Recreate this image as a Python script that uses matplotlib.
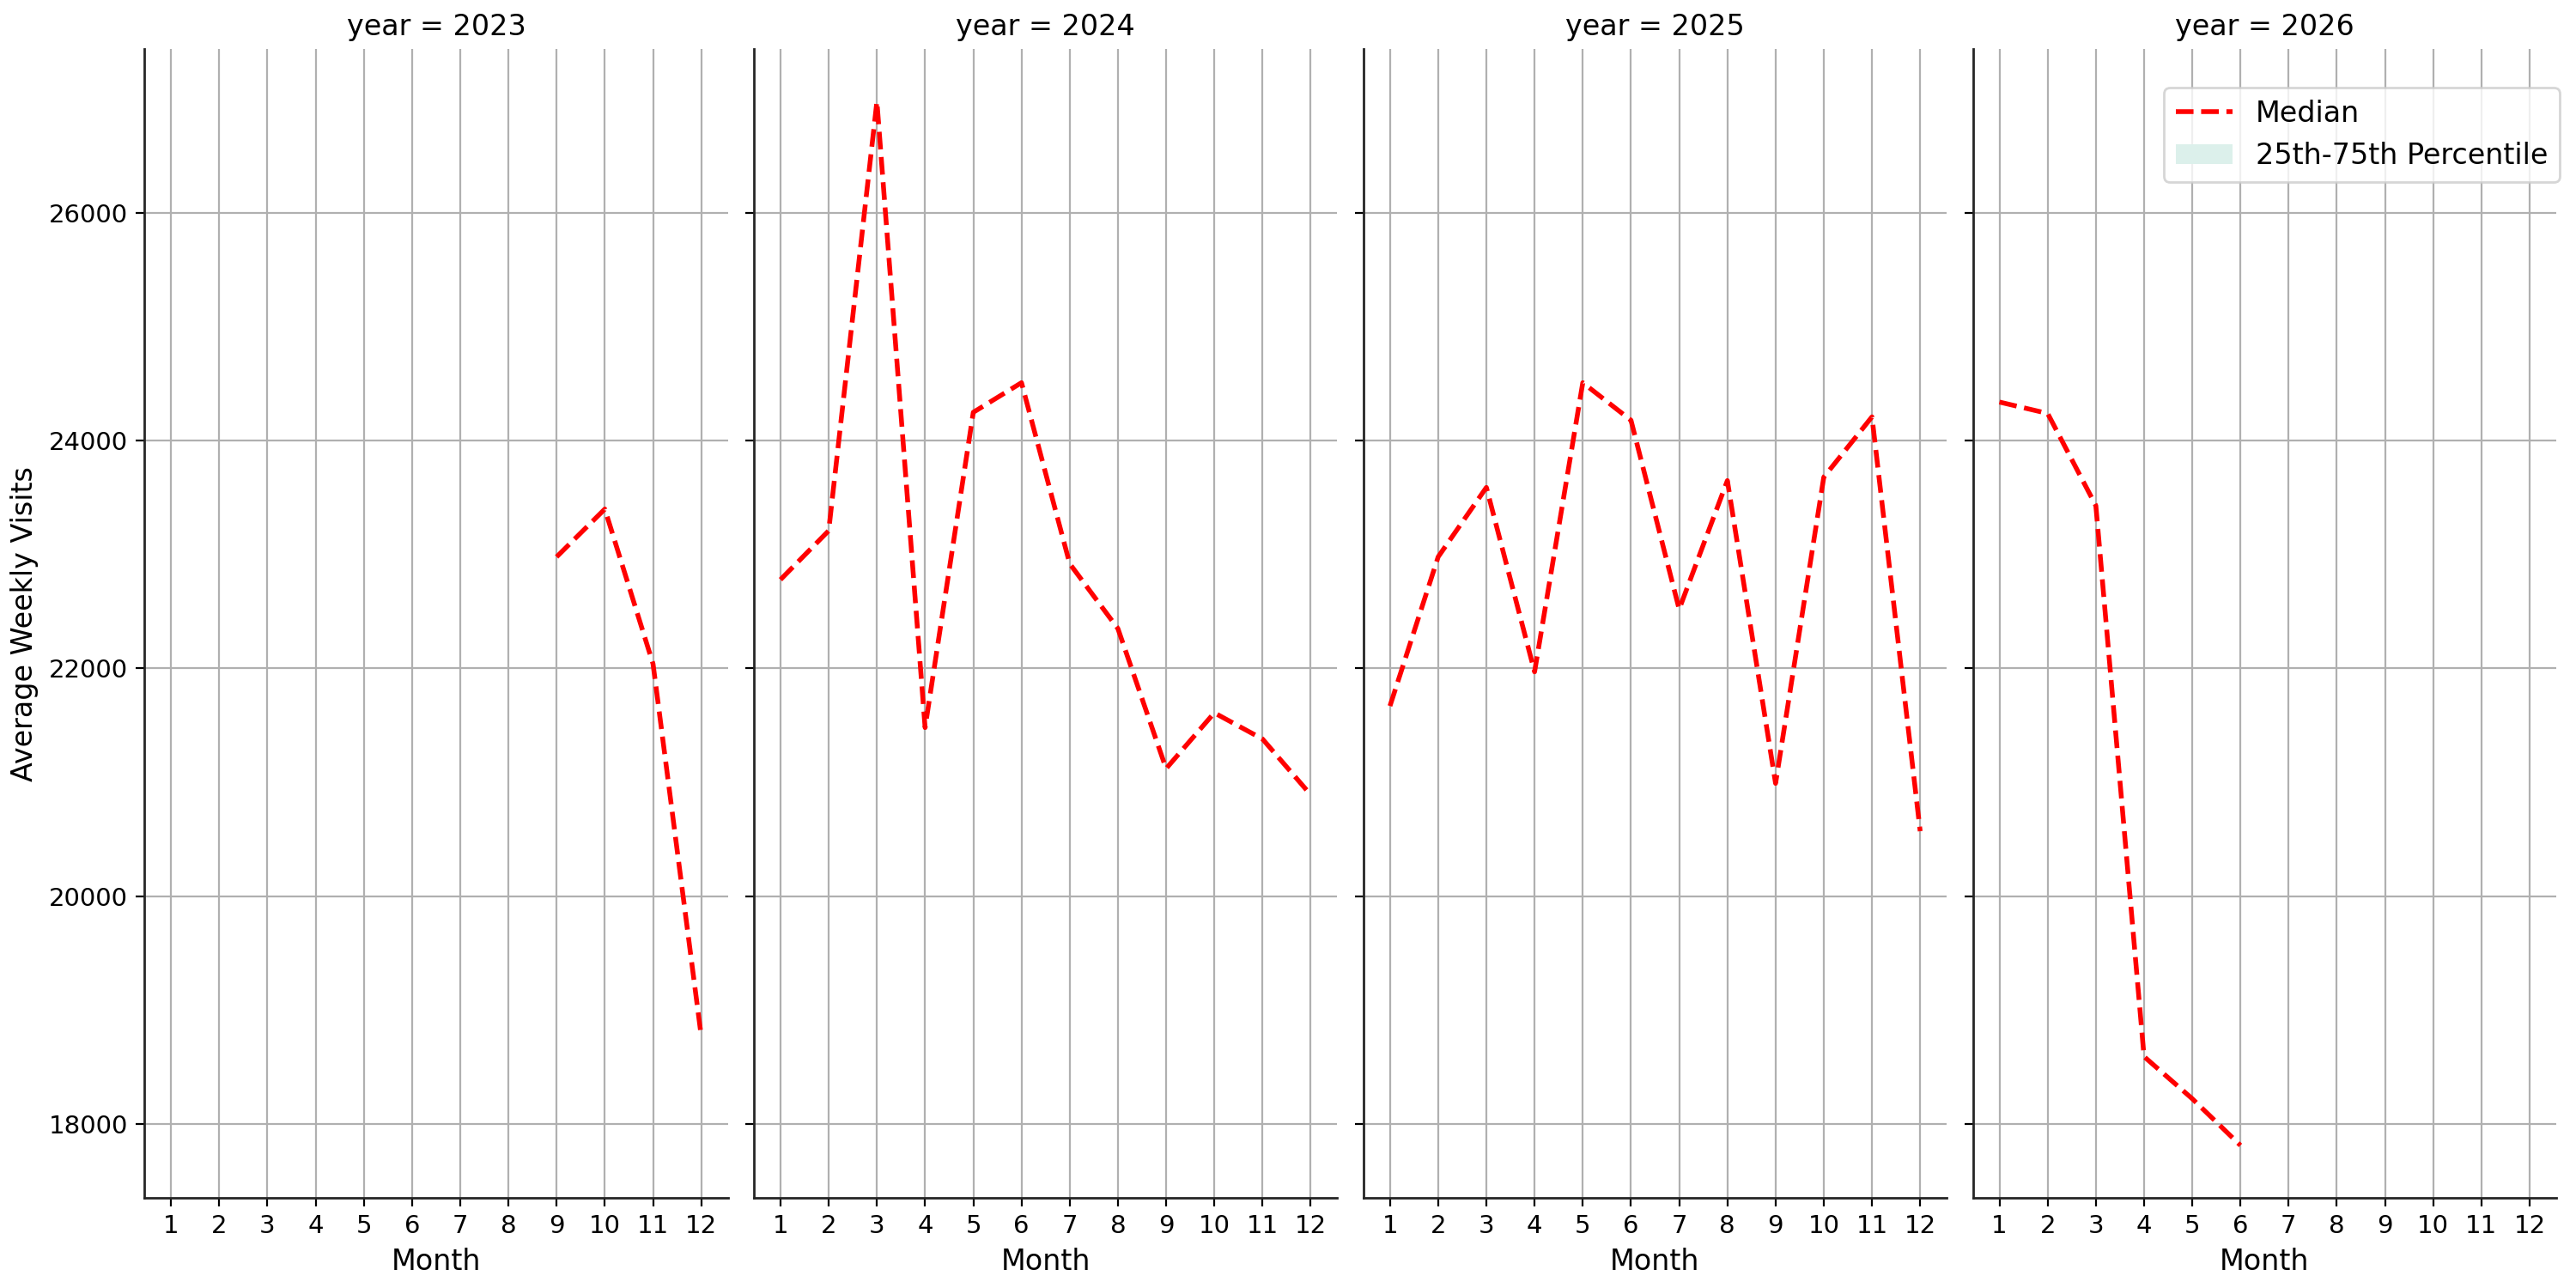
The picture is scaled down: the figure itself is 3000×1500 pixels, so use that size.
import numpy as np
import matplotlib
matplotlib.use("Agg")
import matplotlib.pyplot as plt
from matplotlib.patches import Patch
from matplotlib.lines import Line2D

years = [2023, 2024, 2025, 2026]

# median average weekly visits per month
months_2023 = [9, 10, 11, 12]
median_2023 = [22980, 23400, 22040, 18770]

months_2024 = [1, 2, 3, 4, 5, 6, 7, 8, 9, 10, 11, 12]
median_2024 = [22780, 23210, 26980, 21480, 24250, 24510,
               22920, 22350, 21120, 21610, 21380, 20890]

months_2025 = [1, 2, 3, 4, 5, 6, 7, 8, 9, 10, 11, 12]
median_2025 = [21670, 22980, 23590, 21970, 24510, 24180,
               22520, 23650, 20990, 23680, 24210, 20570]

months_2026 = [1, 2, 3, 4, 5, 6]
median_2026 = [24340, 24240, 23430, 18590, 18220, 17810]

months = {2023: months_2023, 2024: months_2024, 2025: months_2025, 2026: months_2026}
medians = {2023: median_2023, 2024: median_2024, 2025: median_2025, 2026: median_2026}

fig, axes = plt.subplots(1, 4, figsize=(15, 7.5), dpi=200, sharex=True, sharey=True)
fig.subplots_adjust(left=0.0561, right=0.9923, top=0.9617, bottom=0.0702, wspace=0.045)

for ax, year in zip(axes, years):
    ax.plot(months[year], medians[year], color="red", linestyle="--", linewidth=2)
    ax.set_title(f"year = {year}", fontsize=12)
    ax.set_xlabel("Month", fontsize=12)
    ax.set_xticks(range(1, 13))
    ax.tick_params(labelsize=10.5)
    ax.grid(True)
    ax.spines["top"].set_visible(False)
    ax.spines["right"].set_visible(False)
    for s in ("left", "bottom"):
        ax.spines[s].set_color("#262626")
        ax.spines[s].set_linewidth(1.0)

axes[0].set_ylabel("Average Weekly Visits", fontsize=12)

handles = [Line2D([0], [0], color="red", linestyle="--", linewidth=2),
           Patch(facecolor="#dcf0eb", edgecolor="none")]
axes[3].legend(handles, ["Median", "25th-75th Percentile"], loc="upper right",
               fontsize=12, bbox_to_anchor=(1.03, 0.979))

fig.savefig("out.png")
